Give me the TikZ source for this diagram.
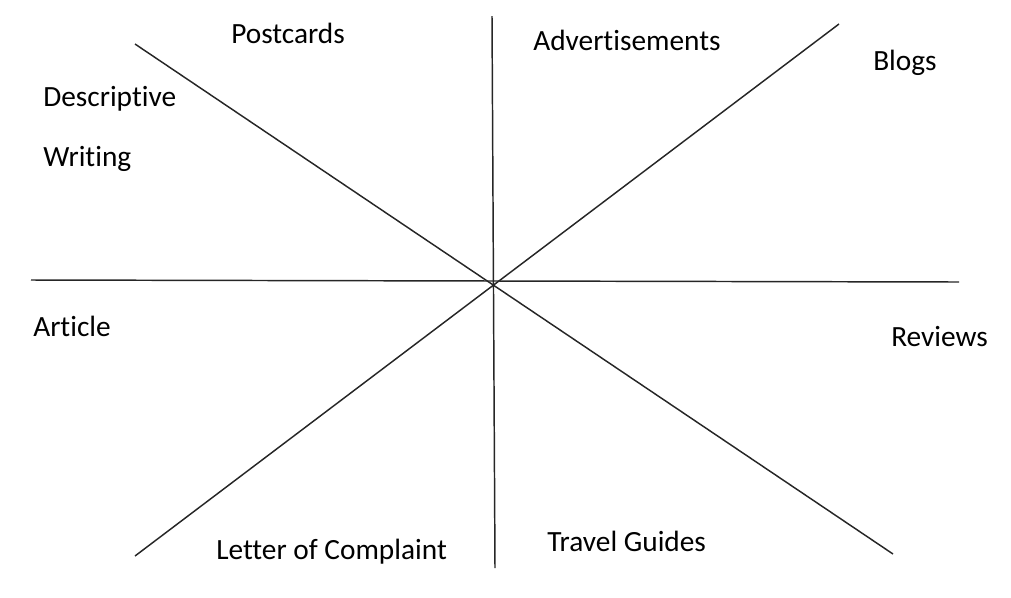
\documentclass[tikz,border=0pt]{standalone}
\usepackage{fontspec}
\setmainfont[Ligatures=NoCommon]{Carlito}
\begin{document}
\begin{tikzpicture}[x=0.75pt,y=-0.75pt,
  ln/.style={line width=1.1pt,black!85},
  lbl/.style={anchor=base west,inner sep=0pt,font=\fontsize{22pt}{26pt}\selectfont}]
\useasboundingbox (0,0) rectangle (1011,597);
\coordinate (vt) at (492,16);
\coordinate (vb) at (495,568);
\coordinate (hl) at (31,280);
\coordinate (hr) at (959,282);
\coordinate (d1a) at (135,44);
\coordinate (d1b) at (893,554);
\coordinate (d2a) at (839,24);
\coordinate (d2b) at (135,556);
\draw[ln] (vt) -- (vb);
\draw[ln] (hl) -- (hr);
\draw[ln] (d1a) -- (d1b);
\draw[ln] (d2a) -- (d2b);
\node[lbl] (postcards) at (231,43) {Postcards};
\node[lbl] (adv) at (533,50) {Advertisements};
\node[lbl] (blogs) at (873,70) {Blogs};
\node[lbl] (desc) at (43,106) {Descriptive};
\node[lbl] (writing) at (43,166) {Writing};
\node[lbl] (article) at (33,336) {Article};
\node[lbl] (reviews) at (891,346) {Reviews};
\node[lbl] (letter) at (216,559) {Letter of Complaint};
\node[lbl] (travel) at (547,551) {Travel Guides};
\end{tikzpicture}
\end{document}
